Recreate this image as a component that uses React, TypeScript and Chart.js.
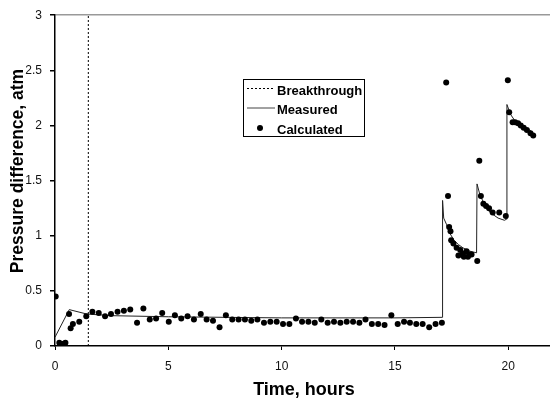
import React, { useEffect, useRef } from "react";
import { Chart, registerables } from "chart.js";

Chart.register(...registerables);

const xTickValues = [0, 5, 10, 15, 20];
const yTickValues = [0, 0.5, 1, 1.5, 2, 2.5, 3];

const breakthroughHour = 1.47;

const measuredHours = [0, 0.63, 1.4, 2.5, 5, 10, 15, 17.08, 17.1, 17.15, 17.28, 17.4, 17.6, 17.8, 18.0, 18.3, 18.6, 18.62, 18.75, 18.96, 19.2, 19.55, 19.83, 19.92, 19.94, 20.1, 20.3, 20.6, 21.0];
const measuredValues = [0.08, 0.33, 0.29, 0.275, 0.265, 0.255, 0.255, 0.26, 1.32, 1.16, 1.1, 1.03, 0.96, 0.92, 0.89, 0.86, 0.845, 1.47, 1.37, 1.28, 1.21, 1.16, 1.14, 1.15, 2.19, 2.1, 2.04, 2.0, 1.95];

const calcHours = [0.03, 0.19, 0.37, 0.46, 0.62, 0.69, 0.79, 1.07, 1.38, 1.65, 1.93, 2.21, 2.47, 2.76, 3.04, 3.32, 3.62, 3.9, 4.18, 4.46, 4.73, 5.02, 5.29, 5.57, 5.85, 6.13, 6.43, 6.69, 6.97, 7.26, 7.54, 7.82, 8.1, 8.38, 8.66, 8.93, 9.22, 9.5, 9.78, 10.06, 10.34, 10.63, 10.9, 11.18, 11.46, 11.75, 12.03, 12.31, 12.59, 12.87, 13.15, 13.43, 13.7, 13.98, 14.26, 14.54, 14.84, 15.12, 15.4, 15.66, 15.94, 16.22, 16.51, 16.79, 17.07, 17.26, 17.34, 17.39, 17.45, 17.48, 17.58, 17.72, 17.8, 17.88, 18.0, 18.04, 18.16, 18.22, 18.3, 18.38, 18.63, 18.72, 18.79, 18.9, 19.02, 19.15, 19.31, 19.6, 19.89, 19.98, 20.04, 20.19, 20.3, 20.43, 20.55, 20.68, 20.82, 20.98, 21.1];
const calcValues = [0.45, 0.03, 0.02, 0.03, 0.29, 0.16, 0.2, 0.22, 0.27, 0.31, 0.3, 0.27, 0.29, 0.31, 0.32, 0.33, 0.21, 0.34, 0.24, 0.25, 0.3, 0.22, 0.28, 0.25, 0.27, 0.24, 0.29, 0.24, 0.23, 0.17, 0.28, 0.24, 0.24, 0.24, 0.23, 0.24, 0.21, 0.22, 0.22, 0.2, 0.2, 0.25, 0.22, 0.22, 0.21, 0.24, 0.21, 0.22, 0.21, 0.22, 0.22, 0.21, 0.24, 0.2, 0.2, 0.19, 0.28, 0.2, 0.22, 0.21, 0.2, 0.2, 0.17, 0.2, 0.21, 2.39, 1.36, 1.08, 1.04, 0.96, 0.93, 0.89, 0.82, 0.87, 0.84, 0.81, 0.86, 0.81, 0.83, 0.83, 0.77, 1.68, 1.36, 1.29, 1.27, 1.25, 1.21, 1.21, 1.18, 2.41, 2.12, 2.03, 2.03, 2.02, 2.0, 1.98, 1.96, 1.93, 1.91];

const legendLabels = ["Breakthrough", "Measured", "Calculated"];
const xTitle = "Time, hours";
const yTitle = "Pressure difference, atm";

const FONT = "'Liberation Sans', Arial, sans-serif";

const decorPlugin = {
  id: "decor",
  afterDraw(chart: any) {
    const ctx = chart.ctx;
    ctx.save();
    ctx.fillStyle = "#000";
    ctx.textAlign = "center";
    ctx.textBaseline = "alphabetic";
    ctx.font = "bold 18px " + FONT;
    ctx.fillText(xTitle, 304, 395);
    ctx.save();
    ctx.translate(23, 171);
    ctx.rotate(-Math.PI / 2);
    ctx.font = "bold 17.5px " + FONT;
    ctx.fillText(yTitle, 0, 0);
    ctx.restore();
    const bx = 243.5, by = 79.5, bw = 121, bh = 57;
    ctx.fillStyle = "#fff";
    ctx.fillRect(bx, by, bw, bh);
    ctx.strokeStyle = "#000";
    ctx.lineWidth = 1;
    ctx.strokeRect(bx, by, bw, bh);
    ctx.beginPath();
    ctx.setLineDash([2, 2]);
    ctx.moveTo(247, 88.5);
    ctx.lineTo(275, 88.5);
    ctx.stroke();
    ctx.setLineDash([]);
    ctx.strokeStyle = "#444";
    ctx.beginPath();
    ctx.moveTo(247, 108);
    ctx.lineTo(275, 108);
    ctx.stroke();
    ctx.fillStyle = "#000";
    ctx.beginPath();
    ctx.arc(260, 128, 3, 0, Math.PI * 2);
    ctx.fill();
    ctx.font = "bold 13px " + FONT;
    ctx.textBaseline = "middle";
    ctx.textAlign = "left";
    ctx.fillText(legendLabels[0], 277, 91);
    ctx.fillText(legendLabels[1], 277, 110);
    ctx.fillText(legendLabels[2], 277, 130);
    ctx.restore();
  },
};

export default function App() {
  const ref = useRef<HTMLCanvasElement | null>(null);
  useEffect(() => {
    if (!ref.current) return;
    const chart = new Chart(ref.current, {
      type: "scatter",
      data: {
        datasets: [
          {
            label: legendLabels[2],
            data: calcHours.map((h, i) => ({ x: h, y: calcValues[i] })),
            pointRadius: 3,
            pointBackgroundColor: "#000",
            pointBorderWidth: 0,
            showLine: false,
            order: 0,
          },
          {
            label: legendLabels[1],
            data: measuredHours.map((h, i) => ({ x: h, y: measuredValues[i] })),
            showLine: true,
            borderColor: "#222",
            borderWidth: 1,
            pointRadius: 0,
            order: 1,
          },
          {
            label: legendLabels[0],
            data: [
              { x: breakthroughHour, y: 0 },
              { x: breakthroughHour, y: 3 },
            ],
            showLine: true,
            borderColor: "#000",
            borderWidth: 1,
            borderDash: [2, 2],
            pointRadius: 0,
            order: 2,
          },
        ],
      },
      options: {
        animation: false,
        responsive: false,
        devicePixelRatio: 1,
        layout: { padding: { top: 11, right: 0, bottom: 0, left: 0 } },
        plugins: { legend: { display: false }, tooltip: { enabled: false } },
        scales: {
          x: {
            type: "linear",
            min: 0,
            max: 21.84,
            afterBuildTicks: (s: any) => {
              s.ticks = xTickValues.map((v) => ({ value: v }));
            },
            afterFit: (s: any) => {
              s.height = 56;
            },
            ticks: {
              callback: (v: any) => String(v),
              color: "#111",
              font: { family: FONT, size: 12 },
              padding: 9,
              maxRotation: 0,
            },
            grid: {
              drawOnChartArea: false,
              drawTicks: true,
              tickLength: 4,
              tickColor: "#000",
            },
            border: { color: "#000", width: 1.5 },
          },
          y: {
            type: "linear",
            min: 0,
            max: 3,
            afterBuildTicks: (s: any) => {
              s.ticks = yTickValues.map((v) => ({ value: v }));
            },
            afterFit: (s: any) => {
              s.width = 55;
            },
            ticks: {
              callback: (v: any) => String(v),
              color: "#111",
              font: { family: FONT, size: 12 },
              padding: 8,
            },
            grid: {
              drawOnChartArea: true,
              color: (c: any) => (c.tick && c.tick.value === 3 ? "#999" : "rgba(0,0,0,0)"),
              lineWidth: 1.5,
              drawTicks: true,
              tickLength: 5,
              tickColor: "#000",
            },
            border: { color: "#000", width: 1.5 },
          },
        },
      },
      plugins: [decorPlugin],
    } as any);
    return () => chart.destroy();
  }, []);
  return (
    <div style={{ position: "absolute", left: 0, top: 0, width: 550, height: 402, overflow: "hidden", background: "#fff" }}>
      <canvas ref={ref} width={554} height={402} style={{ width: 554, height: 402, display: "block" }} />
    </div>
  );
}
